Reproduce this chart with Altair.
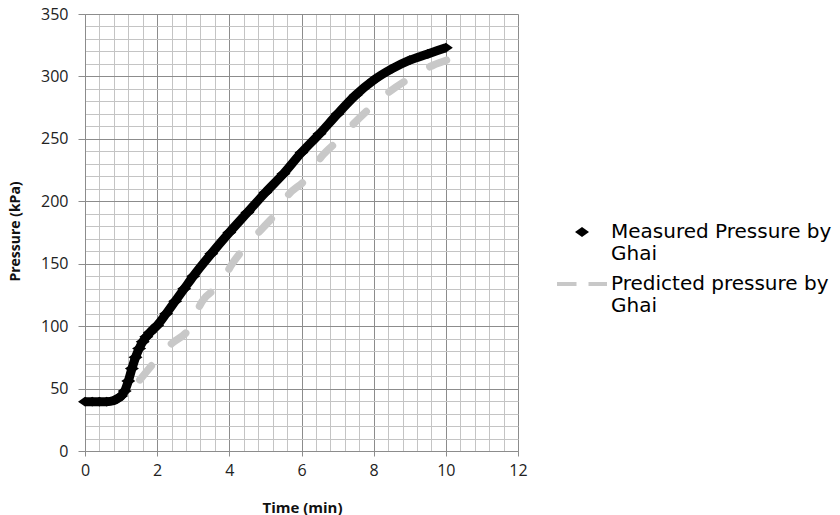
import altair as alt
import pandas as pd

# Measured pressure
meas_t = [0, 0.2, 0.4, 0.6, 0.8, 0.9, 1.0, 1.1, 1.2, 1.3, 1.4, 1.5, 1.6, 1.7, 1.8,
          2.0, 2.25, 2.5, 2.75, 3.0, 3.5, 4.0, 4.5, 5.0, 5.5, 6.0, 6.5, 7.0,
          7.5, 8.0, 8.5, 9.0, 9.5, 10.0]
meas_p = [39.5, 39.5, 39.5, 39.5, 40.5, 42, 44, 48, 56, 66, 75, 82, 87.5, 91.5, 95,
          100.5, 110, 120, 130, 140, 158, 175, 191, 207, 222, 239, 254, 270,
          285, 297, 306, 313, 318, 323]

# Predicted pressure
pred_t = [1.52, 1.95, 2.4, 2.86, 3.25, 3.75, 4.08, 4.52, 4.94, 5.31, 5.63, 6.1,
          6.56, 7.02, 7.34, 7.8, 8.31, 8.91, 9.65, 10.02]
pred_p = [57, 72, 86, 97, 120, 134, 150, 166, 179, 191, 205, 217,
          236, 249, 259, 272, 285, 297, 309, 313]

series = ["Measured", "Predicted"]

x_grid = [round(i * 0.4, 1) for i in range(31)]
y_grid = list(range(0, 351, 10))

meas = pd.DataFrame({"t": meas_t, "p": meas_p})
pred = pd.DataFrame({"t": pred_t, "p": pred_p})
leg = pd.DataFrame({"series": series})

MAJOR = "#8c8c8c"
MINOR = "#c4c4c4"

x_axis = alt.Axis(
    values=x_grid, tickCount=1000,
    labelExpr="datum.value % 2 === 0 ? format(datum.value, 'd') : ''",
    gridColor={"condition": {"test": "datum.value % 2 === 0", "value": MAJOR}, "value": MINOR},
    tickColor={"condition": {"test": "datum.value % 2 === 0", "value": MAJOR}, "value": "transparent"},
    tickSize=5, labelPadding=6, labelFlush=False, labelOverlap=False,
    domainColor=MAJOR, labelFont="Open Sans", labelFontSize=16, labelColor="#222",
    title="Time (min)", titleFont="Open Sans", titleFontWeight="bold", titleFontSize=15,
    titleColor="#111", titleX=217, titleY=56, titleBaseline="middle", titleAlign="center",
)
y_axis = alt.Axis(
    values=y_grid, tickCount=1000,
    labelExpr="datum.value % 50 === 0 ? format(datum.value, 'd') : ''",
    gridColor={"condition": {"test": "datum.value % 50 === 0", "value": MAJOR}, "value": MINOR},
    tickColor={"condition": {"test": "datum.value % 50 === 0", "value": MAJOR}, "value": "transparent"},
    tickSize=7, labelPadding=10, labelFlush=False, labelOverlap=False,
    domainColor=MAJOR, labelFont="Open Sans", labelFontSize=16, labelColor="#222",
    title="Pressure (kPa)", titleFont="Open Sans", titleFontWeight="bold", titleFontSize=14,
    titleColor="#111", titleX=-70, titleY=217, titleBaseline="middle", titleAlign="center",
)

xs = alt.Scale(domain=[0, 12], nice=False, zero=False)
ys = alt.Scale(domain=[0, 350], nice=False)

base_meas = alt.Chart(meas).encode(
    x=alt.X("t:Q", scale=xs, axis=x_axis),
    y=alt.Y("p:Q", scale=ys, axis=y_axis),
)
meas_line = base_meas.mark_line(color="black", strokeWidth=9, interpolate="monotone")
meas_pts = base_meas.mark_point(
    shape="M-1,0L0,-0.7L1,0L0,0.7Z", size=196, filled=True, color="black", opacity=1
)

pred_line = alt.Chart(pred).mark_line(
    color="#c8c8c8", strokeWidth=7.5, strokeDash=[18, 30], strokeCap="round",
    interpolate="monotone"
).encode(x="t:Q", y="p:Q")

label_expr = ("datum.value == 'Measured' ? ['Measured Pressure by', 'Ghai'] "
              ": ['Predicted pressure by', 'Ghai']")
legend = alt.Legend(
    title=None, orient="none", legendX=485, legendY=206, padding=0,
    labelExpr=label_expr, labelLimit=400, labelFont="DejaVu Sans", labelFontSize=20,
    labelColor="#000", labelOffset=17, symbolStrokeWidth=4, symbolSize=400,
    rowPadding=8, symbolOpacity=1,
)
leg_layer = alt.Chart(leg).mark_point(filled=True, size=400, opacity=0).encode(
    fill=alt.Fill("series:N", scale=alt.Scale(domain=series, range=["black", "transparent"]),
                  legend=legend),
    stroke=alt.Stroke("series:N", scale=alt.Scale(domain=series, range=["transparent", "#c8c8c8"]),
                      legend=legend),
    shape=alt.Shape("series:N", scale=alt.Scale(domain=series, range=[
        "M-0.7,0L0,-0.5L0.7,0L0,0.5Z", "M-2.5,0H-0.55M0.65,0H2.5"]), legend=legend),
)

chart = alt.layer(pred_line, meas_line, meas_pts, leg_layer).properties(
    width=433, height=437,
    padding={"left": 85, "top": 14, "right": 322, "bottom": 64},
    autosize="none",
).configure_view(stroke=None).configure(background="white")

chart.save("out.html", embed_options={"renderer": "svg", "actions": False})
